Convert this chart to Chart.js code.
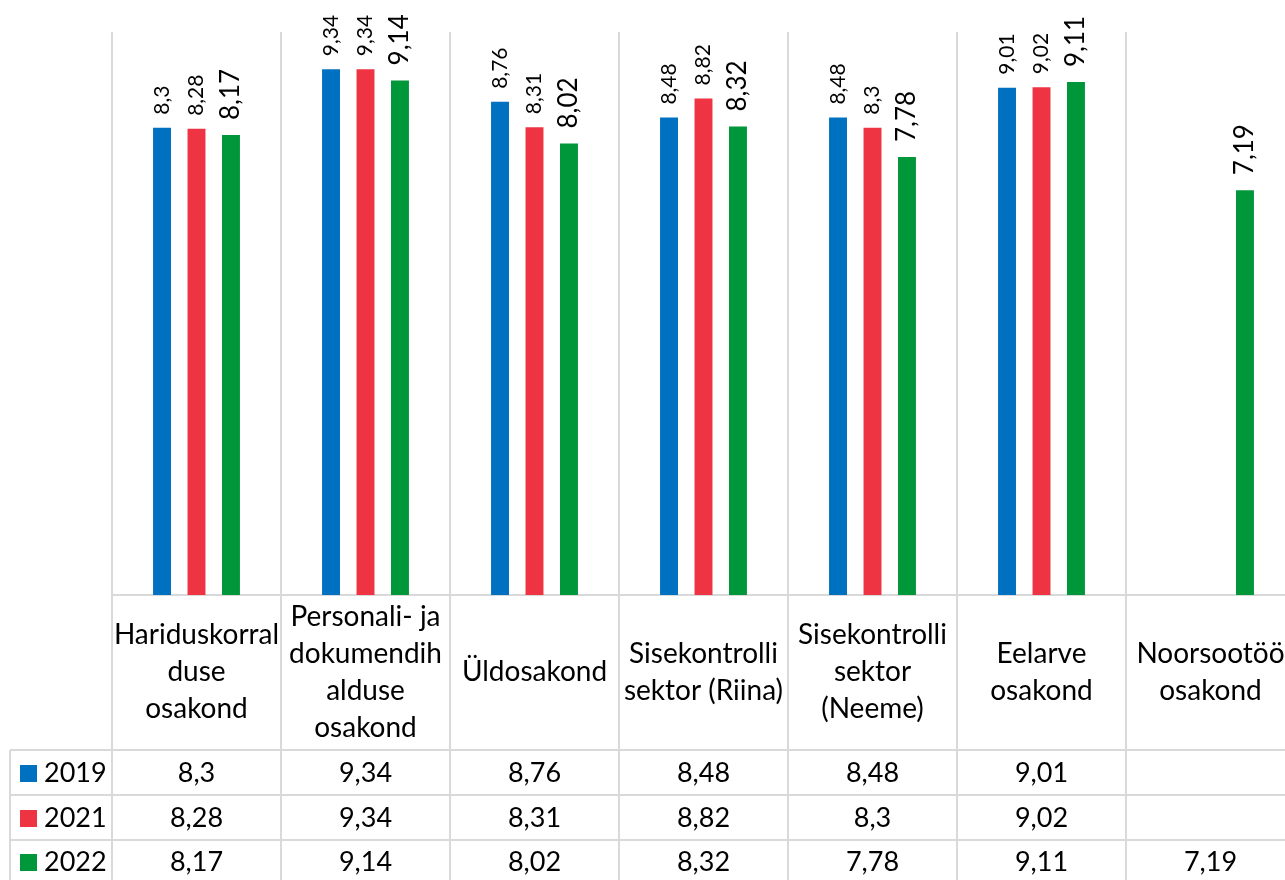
<!DOCTYPE html>
<html lang="et">
<head>
<meta charset="UTF-8">
<title>Osakondade hinnangud</title>
<script src="https://cdn.jsdelivr.net/npm/chart.js"></script>
<style>
  html, body { margin: 0; padding: 0; background: #fff; overflow: hidden; }
  canvas { display: block; }
</style>
</head>
<body>
<canvas id="chart" width="1300" height="880"></canvas>
<script>
// categories (one entry per line of the wrapped label)
var categories = [
    ['Hariduskorral', 'duse', 'osakond'],
    ['Personali- ja', 'dokumendih', 'alduse', 'osakond'],
    ['Üldosakond'],
    ['Sisekontrolli', 'sektor (Riina)'],
    ['Sisekontrolli', 'sektor', '(Neeme)'],
    ['Eelarve', 'osakond'],
    ['Noorsootöö', 'osakond']
];
var years = ['2019', '2021', '2022'];
var values2019 = [8.3, 9.34, 8.76, 8.48, 8.48, 9.01, null];
var values2021 = [8.28, 9.34, 8.31, 8.82, 8.3, 9.02, null];
var values2022 = [8.17, 9.14, 8.02, 8.32, 7.78, 9.11, 7.19];
var colors = ['#0070C0', '#EE3442', '#00963A'];

var FONT = 'Lato, "Noto Sans", sans-serif';

function fmt(v) {
    return String(v).replace('.', ',');
}

// grid lines, category labels and the data table under the bars
var tablePlugin = {
    id: 'tablePlugin',
    beforeDatasetsDraw: function(chart) {
        var ctx = chart.ctx, xs = chart.scales.x, area = chart.chartArea;
        var n = categories.length;
        var w = (xs.right - xs.left) / n;
        var H = chart.height;
        ctx.save();
        ctx.strokeStyle = '#D9D9D9';
        ctx.lineWidth = 2;
        ctx.beginPath();
        for (var i = 0; i <= n; i++) {
            var x = Math.round(xs.left + i * w);
            ctx.moveTo(x, area.top);
            ctx.lineTo(x, H);
        }
        // axis line
        ctx.moveTo(xs.left, area.bottom);
        ctx.lineTo(chart.width, area.bottom);
        // table rows
        [750, 795, 840].forEach(function(y) {
            ctx.moveTo(10, y);
            ctx.lineTo(chart.width, y);
        });
        ctx.moveTo(10, 750);
        ctx.lineTo(10, H);
        ctx.stroke();
        ctx.restore();
    },
    afterDatasetsDraw: function(chart) {
        var ctx = chart.ctx, xs = chart.scales.x;
        ctx.save();
        ctx.fillStyle = '#000';

        // value labels above bars, rotated
        chart.data.datasets.forEach(function(ds, di) {
            var meta = chart.getDatasetMeta(di);
            var big = di === 2;
            meta.data.forEach(function(bar, i) {
                var v = ds.data[i];
                if (v == null) return;
                ctx.save();
                ctx.translate(bar.x, bar.y - (big ? 15 : 13));
                ctx.rotate(-Math.PI / 2);
                ctx.font = (big ? 26 : 21) + 'px ' + FONT;
                ctx.textAlign = 'left';
                ctx.textBaseline = 'middle';
                ctx.fillText(fmt(v), 0, 0);
                ctx.restore();
            });
        });

        ctx.textAlign = 'center';
        ctx.textBaseline = 'middle';

        // category labels
        ctx.font = '28px ' + FONT;
        categories.forEach(function(lines, i) {
            var cx = xs.getPixelForValue(i);
            var y0 = 672 - (lines.length - 1) * 37 / 2;
            lines.forEach(function(t, k) {
                ctx.fillText(t, cx, y0 + k * 37);
            });
        });

        // table rows
        ctx.font = '27px ' + FONT;
        var rowMid = [773, 818, 862];
        chart.data.datasets.forEach(function(ds, di) {
            var y = rowMid[di];
            ctx.fillStyle = colors[di];
            ctx.fillRect(20, y - 8, 17, 17);
            ctx.fillStyle = '#000';
            ctx.textAlign = 'left';
            ctx.fillText(ds.label, 44, y);
            ctx.textAlign = 'center';
            ds.data.forEach(function(v, i) {
                if (v == null) return;
                ctx.fillText(fmt(v), xs.getPixelForValue(i), y);
            });
        });
        ctx.restore();
    }
};

new Chart(document.getElementById('chart'), {
    type: 'bar',
    data: {
        labels: categories,
        datasets: [
            { label: years[0], data: values2019, backgroundColor: colors[0] },
            { label: years[1], data: values2021, backgroundColor: colors[1] },
            { label: years[2], data: values2022, backgroundColor: colors[2] }
        ]
    },
    options: {
        responsive: false,
        devicePixelRatio: 1,
        animation: false,
        categoryPercentage: 0.612,
        barPercentage: 0.52,
        layout: { padding: { left: 112, top: 32, right: 5, bottom: 285 } },
        plugins: { legend: { display: false }, tooltip: { enabled: false } },
        scales: {
            x: { display: false },
            y: { display: false, min: 0, max: 10 }
        }
    },
    plugins: [tablePlugin]
});
</script>
</body>
</html>
